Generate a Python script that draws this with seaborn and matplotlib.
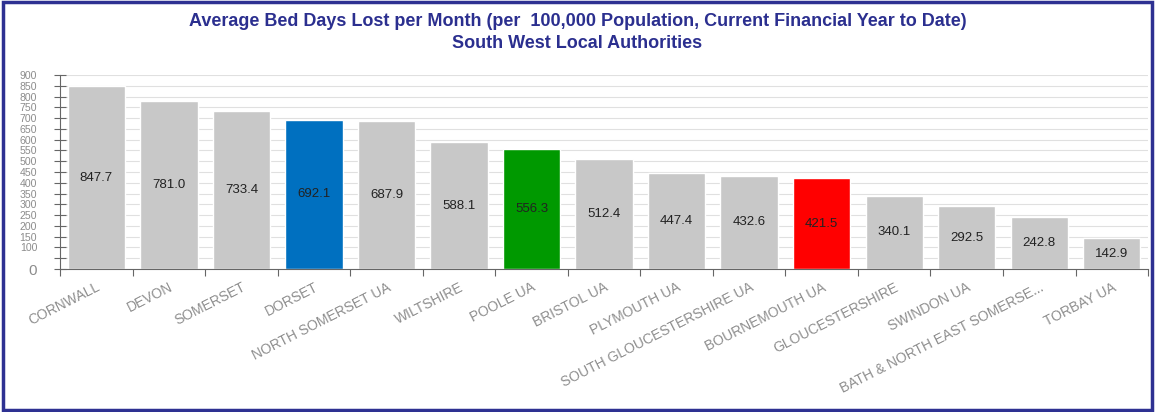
import matplotlib
matplotlib.use("Agg")
import matplotlib.pyplot as plt
import seaborn as sns
import pandas as pd
import numpy as np
from matplotlib.patches import Rectangle

areas = ["CORNWALL", "DEVON", "SOMERSET", "DORSET", "NORTH SOMERSET UA", "WILTSHIRE",
         "POOLE UA", "BRISTOL UA", "PLYMOUTH UA", "SOUTH GLOUCESTERSHIRE UA",
         "BOURNEMOUTH UA", "GLOUCESTERSHIRE", "SWINDON UA", "BATH & NORTH EAST SOMERSE...",
         "TORBAY UA"]
values = [847.7, 781.0, 733.4, 692.1, 687.9, 588.1, 556.3, 512.4, 447.4, 432.6,
          421.5, 340.1, 292.5, 242.8, 142.9]
highlight = {"DORSET": "#0070C0", "POOLE UA": "#009900", "BOURNEMOUTH UA": "#FF0000"}
ytick_vals = [0, 50, 100, 150, 200, 250, 300, 350, 400, 450, 500, 550, 600, 650, 700, 750, 800, 850, 900]
ytick_labels = ["0", ""] + [str(v) for v in ytick_vals[2:]]
title = "Average Bed Days Lost per Month (per  100,000 Population, Current Financial Year to Date)\nSouth West Local Authorities"

sns.set_theme(style="white")
plt.rcParams['font.family'] = ['Liberation Sans', 'DejaVu Sans']

df = pd.DataFrame({"area": areas, "value": values})
palette = [highlight.get(a, "#C8C8C8") for a in areas]

fig = plt.figure(figsize=(11.55, 4.12), dpi=100)
ax = fig.add_axes([0.052, 0.347, 0.942, 0.471])

for y in ytick_vals[1:]:
    ax.axhline(y, color="#E0E0E0", lw=0.8, zorder=0)

sns.barplot(data=df, x="area", y="value", hue="area", palette=palette, legend=False,
            width=0.79, saturation=1, ax=ax, zorder=2)

for i, v in enumerate(values):
    ax.text(i, v / 2, f"{v:.1f}", ha="center", va="center", fontsize=9.5, color="#222222", zorder=3)

ax.set_ylim(0, 900)
ax.set_xlim(-0.5, len(areas) - 0.5)
ax.set_yticks(ytick_vals)
ax.set_yticklabels(ytick_labels, fontsize=7.6, color="#8C8C8C")
ax.tick_params(axis="y", left=True, direction="inout", length=9, width=0.8, color="#666666", pad=12)
for lbl in ax.get_yticklabels():
    if lbl.get_text() == "0":
        lbl.set_fontsize(11)

ax.set_xticks(range(len(areas)))
ax.set_xticklabels(areas, rotation=27, ha="right", rotation_mode="anchor", fontsize=10, color="#8E8E8E")
ax.tick_params(axis="x", which="major", bottom=True, length=0, pad=8)
ax.set_xticks(np.arange(-0.5, len(areas), 1.0), minor=True)
ax.tick_params(axis="x", which="minor", bottom=True, direction="out", length=5, width=0.8, color="#666666")
ax.set_xlabel("")
ax.set_ylabel("")

for s in ["top", "right"]:
    ax.spines[s].set_visible(False)
for s in ["left", "bottom"]:
    ax.spines[s].set_color("#666666")
    ax.spines[s].set_linewidth(0.8)

fig.text(0.5, 0.922, title, ha="center", va="center", fontsize=13, fontweight="bold",
         color="#2B2F8F", linespacing=1.4)

fig.patches.append(Rectangle((0.003, 0.004), 0.994, 0.99, transform=fig.transFigure,
                             fill=False, edgecolor="#2E3192", lw=2.5))

fig.savefig("out.png", dpi=100)
